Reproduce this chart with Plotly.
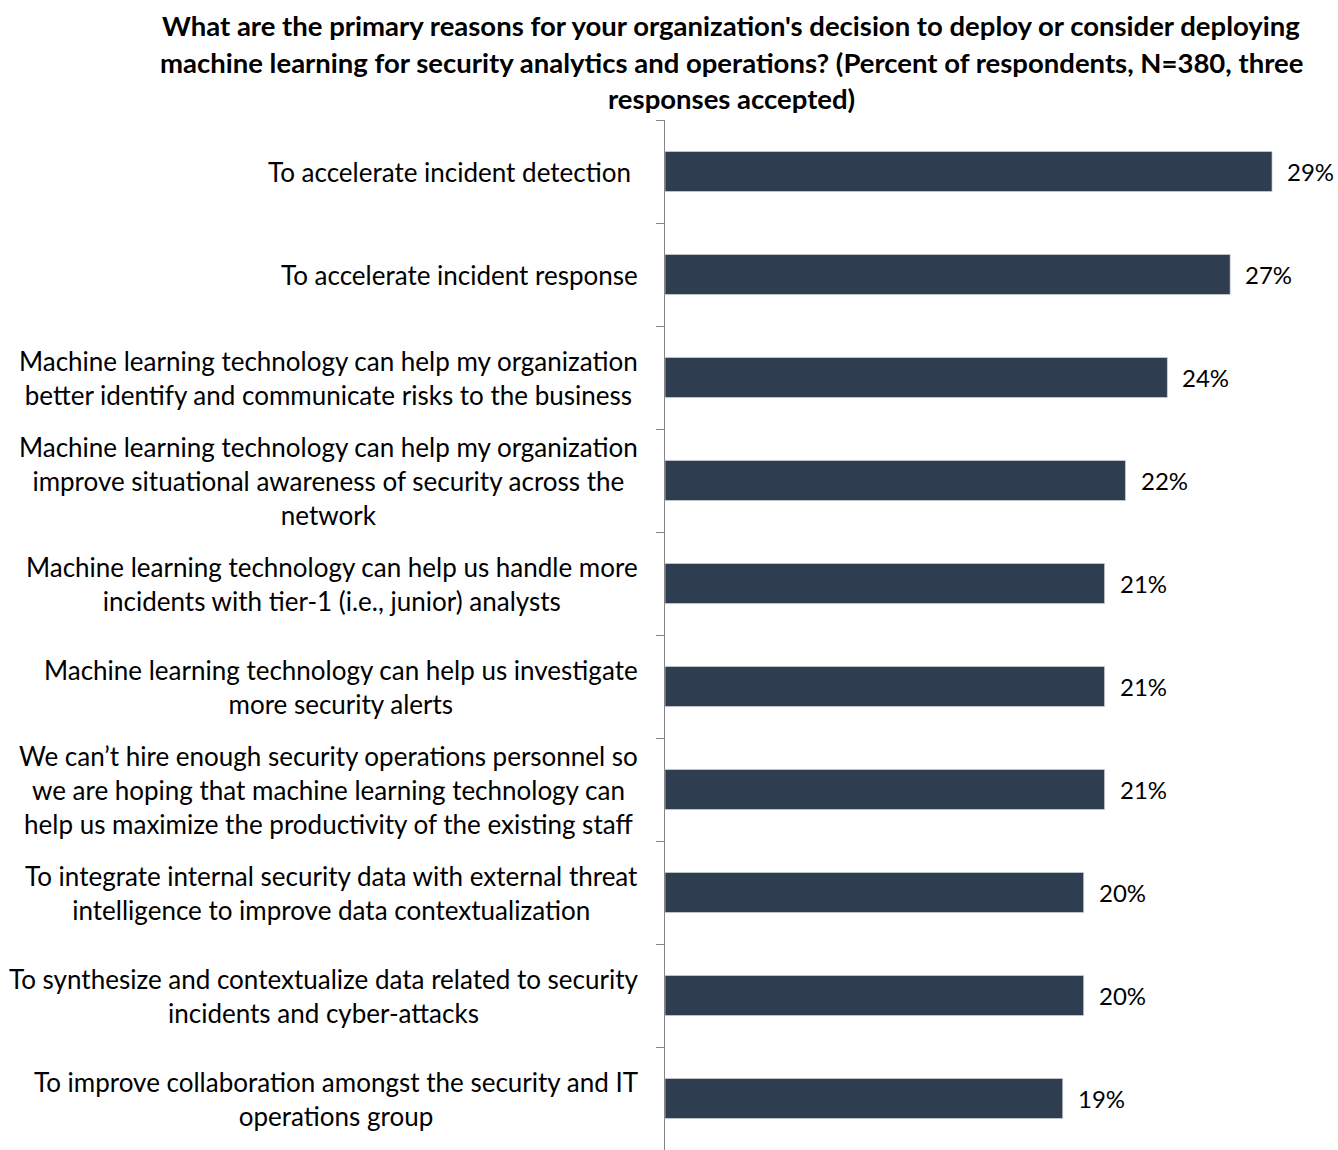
import plotly.graph_objects as go

categories = [
    "To accelerate incident detection",
    "To accelerate incident response",
    "Machine learning technology can help my organization better identify and communicate risks to the business",
    "Machine learning technology can help my organization improve situational awareness of security across the network",
    "Machine learning technology can help us handle more incidents with tier-1 (i.e., junior) analysts",
    "Machine learning technology can help us investigate more security alerts",
    "We can’t hire enough security operations personnel so we are hoping that machine learning technology can help us maximize the productivity of the existing staff",
    "To integrate internal security data with external threat intelligence to improve data contextualization",
    "To synthesize and contextualize data related to security incidents and cyber-attacks",
    "To improve collaboration amongst the security and IT operations group",
]
label_lines = [
    ["To accelerate incident detection "],
    ["To accelerate incident response"],
    ["Machine learning technology can help my organization", "better identify and communicate risks to the business"],
    ["Machine learning technology can help my organization", "improve situational awareness of security across the", "network"],
    ["Machine learning technology can help us handle more", "incidents with tier-1 (i.e., junior) analysts"],
    ["Machine learning technology can help us investigate", "more security alerts"],
    ["We can’t hire enough security operations personnel so", "we are hoping that machine learning technology can", "help us maximize the productivity of the existing staff"],
    ["To integrate internal security data with external threat", "intelligence to improve data contextualization"],
    ["To synthesize and contextualize data related to security", "incidents and cyber-attacks"],
    ["To improve collaboration amongst the security and IT", "operations group"],
]
values = [29, 27, 24, 22, 21, 21, 21, 20, 20, 19]
value_labels = ["29%", "27%", "24%", "22%", "21%", "21%", "21%", "20%", "20%", "19%"]
title_lines = [
    "What are the primary reasons for your organization's decision to deploy or consider deploying",
    "machine learning for security analytics and operations? (Percent of respondents, N=380, three",
    "responses accepted)",
]

FONT = "Lato"
LABEL_SIZE = 26
BAR_COLOR = "#2E3D4F"

fig = go.Figure()
fig.add_trace(go.Bar(
    x=values, y=categories, orientation="h",
    marker=dict(color=BAR_COLOR, line=dict(color="#d5d9de", width=0.7)),
    hoverinfo="skip",
))

annotations = []
# category labels: centered lines inside a right-aligned block
for cat, lines in zip(categories, label_lines):
    annotations.append(dict(
        text="<br>".join(lines), x=0, xref="paper", y=cat, yref="y",
        xanchor="right", yanchor="middle", xshift=-25,
        align="center", showarrow=False,
        font=dict(family=FONT, size=LABEL_SIZE, color="#000000"),
    ))

# value labels
for cat, v, lab in zip(categories, values, value_labels):
    annotations.append(dict(
        text=lab, x=v, xref="x", y=cat, yref="y", xanchor="left", yanchor="middle",
        xshift=13, showarrow=False,
        font=dict(family=FONT, size=24, color="#000000"),
    ))

# title lines
for t, ys in zip(title_lines, [95, 58, 22]):
    annotations.append(dict(
        text=f"<b>{t}</b>", x=(731 - 665) / 628, xref="paper", y=1, yref="paper",
        xanchor="center", yanchor="middle", yshift=ys, showarrow=False,
        font=dict(family=FONT, size=27.5, color="#000000"),
    ))

fig.update_layout(
    width=1338, height=1150,
    margin=dict(l=665, r=45, t=120, b=0, pad=0),
    paper_bgcolor="white", plot_bgcolor="white",
    bargap=0.61,
    showlegend=False,
    annotations=annotations,
    xaxis=dict(range=[0, 30], visible=False, fixedrange=True),
    yaxis=dict(
        type="category", autorange="reversed", showline=True, linecolor="#868686", linewidth=1,
        ticks="outside", ticklen=8, tickcolor="#868686", tickwidth=1, tickson="boundaries",
        showticklabels=False, showgrid=False, zeroline=False, fixedrange=True,
    ),
)

fig.write_html(
    "out.html",
    config={"displayModeBar": False, "staticPlot": True},
    post_script="document.body.style.margin='0';document.body.style.overflow='hidden';",
)
